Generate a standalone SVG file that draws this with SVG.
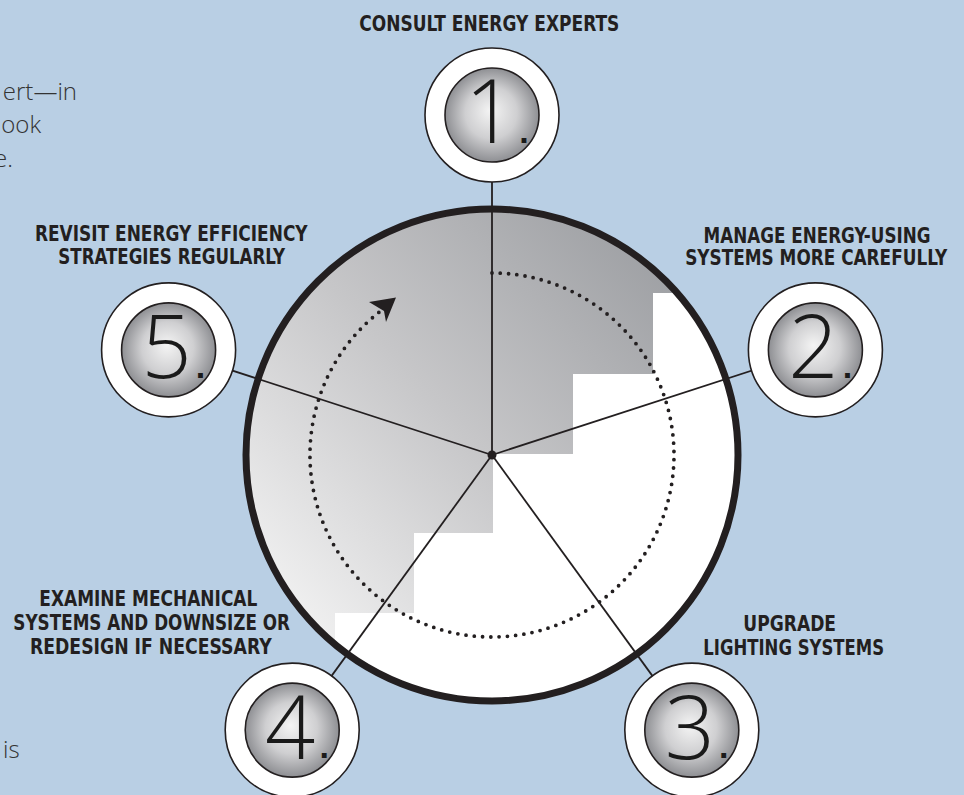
<svg xmlns="http://www.w3.org/2000/svg" width="964" height="795" viewBox="0 0 964 795">
<style>
.lbl{font-family:"Liberation Sans Narrow","DejaVu Sans Condensed","Liberation Sans",sans-serif;font-weight:bold;font-size:22px;fill:#231f20;text-anchor:middle}
.num{font-family:"Open Sans","Lato","Liberation Sans",sans-serif;font-weight:300;font-size:88px;fill:#1a1a1a;text-anchor:middle}
.dot{font-family:"Liberation Sans",sans-serif;font-weight:bold;font-size:34px}
.body{font-family:"Open Sans","Liberation Sans",sans-serif;font-weight:300;font-size:24px;fill:#333333}
.outer{fill:#ffffff;stroke:#231f20;stroke-width:1.6}
.inner{fill:url(#ball);stroke:#231f20;stroke-width:1.6}
.spoke{stroke:#231f20;stroke-width:1.8;fill:none}
</style>
<defs>
<radialGradient id="ball" cx="0.5" cy="0.5" r="0.5" fx="0.48" fy="0.45">
<stop offset="0" stop-color="#f4f4f4"/>
<stop offset="0.55" stop-color="#cfcfd1"/>
<stop offset="1" stop-color="#8e8f93"/>
</radialGradient>
<linearGradient id="shade" gradientUnits="userSpaceOnUse" x1="270" y1="640" x2="690" y2="250">
<stop offset="0" stop-color="#f6f6f6"/>
<stop offset="0.5" stop-color="#c6c6c8"/>
<stop offset="1" stop-color="#9a9ca0"/>
</linearGradient>
<clipPath id="hubclip"><circle cx="492" cy="455" r="246"/></clipPath>
</defs>
<rect width="964" height="795" fill="#b9cfe4"/>

<g id="body-text">
<text class="body" x="77" y="100" text-anchor="end">ert—in</text>
<text class="body" x="41" y="133" text-anchor="end">ook</text>
<text class="body" x="13" y="167" text-anchor="end">e.</text>
<text class="body" x="3" y="758">is</text>
</g>

<g id="hub">
<circle cx="492" cy="455" r="246" fill="#ffffff"/>
<path clip-path="url(#hubclip)" fill="url(#shade)" d="M200,150 L800,150 L800,293 L653,293 L653,374 L573,374 L573,454 L493,454 L493,533 L414,533 L414,613 L335,613 L335,760 L200,760 Z"/>
</g>

<g id="connectors">
<line class="spoke" x1="492" y1="455" x2="492" y2="115"/>
<line class="spoke" x1="492" y1="455" x2="815.4" y2="349.9"/>
<line class="spoke" x1="492" y1="455" x2="691.8" y2="730.1"/>
<line class="spoke" x1="492" y1="455" x2="292.2" y2="730.1"/>
<line class="spoke" x1="492" y1="455" x2="168.6" y2="349.9"/>
<circle cx="492" cy="455" r="4.5" fill="#231f20"/>
<path d="M492,273 A182,182 0 0 1 492,637 A182,182 0 0 1 383.7,308.7" fill="none" stroke="#231f20" stroke-width="3.8" stroke-linecap="round" stroke-dasharray="0 8.3"/>
<path d="M396,297.5 L369,302 L384,311 L386,322 Z" fill="#231f20"/>
</g>

<circle cx="492" cy="455" r="246" fill="none" stroke="#231f20" stroke-width="7"/>

<g id="node1">
<circle class="outer" cx="492" cy="115" r="67"/>
<circle class="inner" cx="492" cy="115" r="47"/>
<text class="num" x="490" y="143">1<tspan class="dot" x="524" y="143">.</tspan></text>
<text class="lbl" x="489.3" y="31" textLength="260" lengthAdjust="spacingAndGlyphs">CONSULT ENERGY EXPERTS</text>
</g>

<g id="node2">
<circle class="outer" cx="815.4" cy="349.9" r="67"/>
<circle class="inner" cx="815.4" cy="349.9" r="47"/>
<text class="num" x="813.4" y="378">2<tspan class="dot" x="847.4" y="378">.</tspan></text>
<text class="lbl" x="817" y="243" textLength="227" lengthAdjust="spacingAndGlyphs">MANAGE ENERGY-USING</text>
<text class="lbl" x="816.2" y="265" textLength="262" lengthAdjust="spacingAndGlyphs">SYSTEMS MORE CAREFULLY</text>
</g>

<g id="node3">
<circle class="outer" cx="691.8" cy="730.1" r="67"/>
<circle class="inner" cx="691.8" cy="730.1" r="47"/>
<text class="num" x="689.8" y="759">3<tspan class="dot" x="723.8" y="758.2">.</tspan></text>
<text class="lbl" x="789.7" y="631" textLength="92.7" lengthAdjust="spacingAndGlyphs">UPGRADE</text>
<text class="lbl" x="793.7" y="655" textLength="180.7" lengthAdjust="spacingAndGlyphs">LIGHTING SYSTEMS</text>
</g>

<g id="node4">
<circle class="outer" cx="292.2" cy="730.1" r="67"/>
<circle class="inner" cx="292.2" cy="730.1" r="47"/>
<text class="num" x="290.2" y="759">4<tspan class="dot" x="324.2" y="758.2">.</tspan></text>
<text class="lbl" x="148.3" y="606" textLength="218" lengthAdjust="spacingAndGlyphs">EXAMINE MECHANICAL</text>
<text class="lbl" x="151.7" y="630" textLength="276.7" lengthAdjust="spacingAndGlyphs">SYSTEMS AND DOWNSIZE OR</text>
<text class="lbl" x="150.8" y="654" textLength="241.7" lengthAdjust="spacingAndGlyphs">REDESIGN IF NECESSARY</text>
</g>

<g id="node5">
<circle class="outer" cx="168.6" cy="349.9" r="67"/>
<circle class="inner" cx="168.6" cy="349.9" r="47"/>
<text class="num" x="166.6" y="378">5<tspan class="dot" x="200.6" y="378">.</tspan></text>
<text class="lbl" x="171.3" y="241" textLength="272.7" lengthAdjust="spacingAndGlyphs">REVISIT ENERGY EFFICIENCY</text>
<text class="lbl" x="171.7" y="264" textLength="226.7" lengthAdjust="spacingAndGlyphs">STRATEGIES REGULARLY</text>
</g>
</svg>
